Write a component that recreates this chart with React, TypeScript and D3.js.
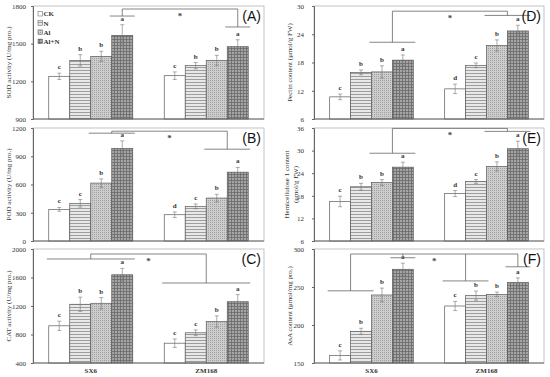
import React, { useEffect, useRef } from "react";
import * as d3 from "d3";

const groups = ["SX6", "ZM168"];
const treatments = ["CK", "N", "Al", "Al+N"];

// SOD activity
const sodMean = [[1240, 1367, 1399, 1566], [1245, 1325, 1367, 1476]];
const sodErr = [[25, 45, 40, 85], [30, 25, 40, 55]];
const sodLetters = [["c", "b", "b", "a"], ["c", "b", "b", "a"]];
const sodTicks = [900, 1200, 1500, 1800];

// POD activity
const podMean = [[336, 400, 615, 983], [279, 368, 456, 731]];
const podErr = [[20, 40, 45, 80], [30, 25, 40, 50]];
const podLetters = [["c", "c", "b", "a"], ["d", "c", "b", "a"]];
const podTicks = [0, 300, 600, 900, 1200];

// CAT activity
const catMean = [[922, 1224, 1238, 1638], [678, 824, 982, 1260]];
const catErr = [[65, 100, 80, 90], [60, 40, 80, 100]];
const catLetters = [["c", "b", "b", "a"], ["c", "c", "b", "a"]];
const catTicks = [400, 800, 1200, 1600, 2000];

// pectin
const pecMean = [[10.7, 15.9, 16.0, 18.5], [12.4, 17.4, 21.6, 24.7]];
const pecErr = [[0.6, 0.5, 1.3, 1.1], [1.0, 0.5, 1.2, 1.2]];
const pecLetters = [["c", "b", "b", "a"], ["d", "c", "b", "a"]];
const pecTicks = [6, 12, 18, 24, 30];

// hemicellulose 1
const hemMean = [[16.5, 20.4, 21.5, 25.6], [18.6, 21.8, 25.8, 30.5]];
const hemErr = [[1.4, 0.9, 0.8, 1.3], [0.8, 0.5, 1.2, 2.0]];
const hemLetters = [["c", "b", "b", "a"], ["d", "c", "b", "a"]];
const hemTicks = [6, 12, 18, 24, 30, 36];

// AsA
const asaMean = [[160, 191.7, 239.5, 273.3], [225, 238.6, 240.3, 256]];
const asaErr = [[6, 4, 9, 8], [6, 6, 3, 6]];
const asaLetters = [["c", "b", "b", "a"], ["c", "b", "b", "a"]];
const asaTicks = [150, 200, 250, 300];

// significance brackets: top line value, legs = [group, fromBar, toBar, value]
const sodTop = 1776;
const sodLegs = [[0, 3, 3, 1720], [1, 3, 3, 1633]];
const podTop = 1166;
const podLegs = [[0, 2, 3, 1145], [1, 2, 3, 975]];
const catTop = 1930;
const catLegs = [[0, 0, 3, 1860], [1, 0, 3, 1523]];
const pecTop = 28.9;
const pecLegs = [[0, 2, 3, 22.3], [1, 2, 3, 28.0]];
const hemTop = 35.9;
const hemLegs = [[0, 2, 3, 29.3], [1, 2, 3, 35.1]];
const asaTop = 293.4;
const asaLegs = [[0, 0, 1, 245], [0, 3, 3, 288.5], [1, 0, 1, 258], [1, 3, 3, 276.6]];

const panels = [
  { label: "(A)", title: ["SOD activity (U/mg pro.)"], mean: sodMean, err: sodErr, letters: sodLetters, ticks: sodTicks, top: sodTop, legs: sodLegs, col: 0, row: 0 },
  { label: "(B)", title: ["POD activity (U/mg pro.)"], mean: podMean, err: podErr, letters: podLetters, ticks: podTicks, top: podTop, legs: podLegs, col: 0, row: 1 },
  { label: "(C)", title: ["CAT activity (U/mg pro.)"], mean: catMean, err: catErr, letters: catLetters, ticks: catTicks, top: catTop, legs: catLegs, col: 0, row: 2 },
  { label: "(D)", title: ["Pectin content (μmol/g FW)"], mean: pecMean, err: pecErr, letters: pecLetters, ticks: pecTicks, top: pecTop, legs: pecLegs, col: 1, row: 0 },
  { label: "(E)", title: ["Hemicellulose 1 content", "(μmol/g FW)"], mean: hemMean, err: hemErr, letters: hemLetters, ticks: hemTicks, top: hemTop, legs: hemLegs, col: 1, row: 1 },
  { label: "(F)", title: ["AsA content (μmol/mg pro.)"], mean: asaMean, err: asaErr, letters: asaLetters, ticks: asaTicks, top: asaTop, legs: asaLegs, col: 1, row: 2 },
];

const width = 550;
const height = 377;
const cols = [[33, 264], [314, 544]];
const rows = [[6, 119], [128, 241], [249, 363]];
const serif = "'Liberation Serif', 'Times New Roman', serif";
const fills = ["#ffffff", "url(#patN)", "url(#patAl)", "url(#patAlN)"];

export default function App() {
  const ref = useRef<SVGSVGElement>(null);

  useEffect(() => {
    const svg = d3.select(ref.current);
    svg.selectAll(".chart").remove();
    const root = svg.append("g").attr("class", "chart");

    panels.forEach((p) => {
      const [px0, px1] = cols[p.col];
      const [py0, py1] = rows[p.row];
      const x0 = d3.scaleBand().domain(groups).range([px0, px1]);
      const x1 = d3
        .scaleBand()
        .domain(treatments)
        .range([0, x0.bandwidth()])
        .paddingOuter(0.75)
        .paddingInner(0);
      const y = d3
        .scaleLinear()
        .domain([p.ticks[0], p.ticks[p.ticks.length - 1]])
        .range([py1, py0]);
      const g = root.append("g");

      g.append("rect")
        .attr("x", px0)
        .attr("y", py0)
        .attr("width", px1 - px0)
        .attr("height", py1 - py0)
        .attr("fill", "none")
        .attr("stroke", "#b5b5b5")
        .attr("stroke-width", 0.8);

      // bars
      groups.forEach((gr, gi) => {
        treatments.forEach((t, ti) => {
          const m = p.mean[gi][ti];
          const e = p.err[gi][ti];
          const bx = x0(gr)! + x1(t)!;
          const cx = bx + x1.bandwidth() / 2;
          g.append("rect")
            .attr("x", bx)
            .attr("y", y(m))
            .attr("width", x1.bandwidth())
            .attr("height", py1 - y(m))
            .attr("fill", fills[ti])
            .attr("stroke", "#5a5a5a")
            .attr("stroke-width", 0.7);
          const eg = g.append("g").attr("stroke", "#777").attr("stroke-width", 0.6);
          eg.append("line").attr("x1", cx).attr("x2", cx).attr("y1", y(m - e)).attr("y2", y(m + e));
          eg.append("line").attr("x1", cx - 2).attr("x2", cx + 2).attr("y1", y(m - e)).attr("y2", y(m - e));
          eg.append("line").attr("x1", cx - 2).attr("x2", cx + 2).attr("y1", y(m + e)).attr("y2", y(m + e));
          g.append("text")
            .attr("x", cx)
            .attr("y", y(m + e) - 4)
            .attr("text-anchor", "middle")
            .attr("font-family", serif)
            .attr("font-weight", "bold")
            .attr("font-size", 7)
            .attr("fill", "#333")
            .text(p.letters[gi][ti]);
        });
      });

      // axes
      const yAxis = g
        .append("g")
        .attr("transform", `translate(${px0},0)`)
        .call(d3.axisLeft(y).tickValues(p.ticks).tickSize(2).tickPadding(p.col === 0 ? 5 : 8).tickFormat(d3.format("d")));
      yAxis.select(".domain").attr("stroke", "#666");
      yAxis.selectAll(".tick line").attr("stroke", "#666");
      yAxis
        .selectAll("text")
        .attr("font-family", serif)
        .attr("font-size", 7)
        .attr("fill", "#333");
      g.append("line")
        .attr("x1", px0)
        .attr("x2", px1)
        .attr("y1", py1)
        .attr("y2", py1)
        .attr("stroke", "#666")
        .attr("stroke-width", 1);

      // y title
      const tx = p.title.length > 1 ? px0 - 25 : px0 - 22;
      p.title.forEach((line, i) => {
        g.append("text")
          .attr("transform", `translate(${tx + i * 9},${(py0 + py1) / 2}) rotate(-90)`)
          .attr("text-anchor", "middle")
          .attr("font-family", serif)
          .attr("font-size", 7)
          .attr("fill", "#333")
          .text(line);
      });

      // x labels
      if (p.row === 2) {
        groups.forEach((gr) => {
          g.append("text")
            .attr("x", x0(gr)! + x0.bandwidth() / 2)
            .attr("y", py1 + 10)
            .attr("text-anchor", "middle")
            .attr("font-family", serif)
            .attr("font-weight", "bold")
            .attr("font-size", 7)
            .attr("fill", "#333")
            .text(gr);
        });
      }

      // significance brackets
      const legX = (l: number[]) => {
        const a = x0(groups[l[0]])! + x1(treatments[l[1]])!;
        const b = x0(groups[l[0]])! + x1(treatments[l[2]])! + x1.bandwidth();
        return [a, b];
      };
      const bg = g.append("g").attr("stroke", "#666").attr("stroke-width", 0.8).attr("fill", "none");
      const centers = p.legs.map((l) => {
        const [a, b] = legX(l);
        return (a + b) / 2;
      });
      const lx0 = d3.min(centers)!;
      const lx1 = d3.max(centers)!;
      bg.append("line").attr("x1", lx0).attr("x2", lx1).attr("y1", y(p.top)).attr("y2", y(p.top));
      p.legs.forEach((l, i) => {
        const [a, b] = legX(l);
        bg.append("line").attr("x1", centers[i]).attr("x2", centers[i]).attr("y1", y(p.top)).attr("y2", y(l[3]));
        bg.append("line").attr("x1", a - 2).attr("x2", b + 2).attr("y1", y(l[3])).attr("y2", y(l[3]));
      });
      g.append("text")
        .attr("x", (lx0 + lx1) / 2)
        .attr("y", y(p.top) + 10)
        .attr("text-anchor", "middle")
        .attr("font-family", serif)
        .attr("font-weight", "bold")
        .attr("font-size", 9)
        .attr("fill", "#444")
        .text("*");

      // panel label
      g.append("text")
        .attr("x", px1 - 3)
        .attr("y", py0 + 15)
        .attr("text-anchor", "end")
        .attr("font-family", "'Liberation Sans', Arial, sans-serif")
        .attr("font-size", 14)
        .attr("fill", "#111")
        .text(p.label);

      // legend in panel A
      if (p.col === 0 && p.row === 0) {
        treatments.forEach((t, i) => {
          const ly = py0 + 8 + i * 9.2;
          g.append("rect")
            .attr("x", px0 + 5)
            .attr("y", ly - 2.5)
            .attr("width", 4.5)
            .attr("height", 4.5)
            .attr("fill", fills[i])
            .attr("stroke", "#555")
            .attr("stroke-width", 0.5);
          g.append("text")
            .attr("x", px0 + 10.5)
            .attr("y", ly + 2.3)
            .attr("font-family", serif)
            .attr("font-weight", "bold")
            .attr("font-size", 7)
            .attr("fill", "#333")
            .text(t);
        });
      }
    });
  }, []);

  return (
    <svg
      ref={ref}
      width={width}
      height={height}
      style={{ position: "fixed", left: 0, top: 0, background: "#fff" }}
    >
      <defs>
        <pattern id="patN" width="4" height="3" patternUnits="userSpaceOnUse">
          <rect width="4" height="3" fill="#e8e8e8" />
          <line x1="0" x2="4" y1="1.5" y2="1.5" stroke="#8a8a8a" strokeWidth="0.8" />
        </pattern>
        <pattern id="patAl" width="2" height="2" patternUnits="userSpaceOnUse">
          <rect width="2" height="2" fill="#cdcdcd" />
          <rect width="1" height="1" fill="#a0a0a0" />
        </pattern>
        <pattern id="patAlN" width="3" height="3" patternUnits="userSpaceOnUse">
          <rect width="3" height="3" fill="#a5a5a5" />
          <line x1="0" x2="3" y1="0.5" y2="0.5" stroke="#6a6a6a" strokeWidth="0.8" />
          <line x1="0.5" x2="0.5" y1="0" y2="3" stroke="#6a6a6a" strokeWidth="0.8" />
        </pattern>
      </defs>
    </svg>
  );
}
